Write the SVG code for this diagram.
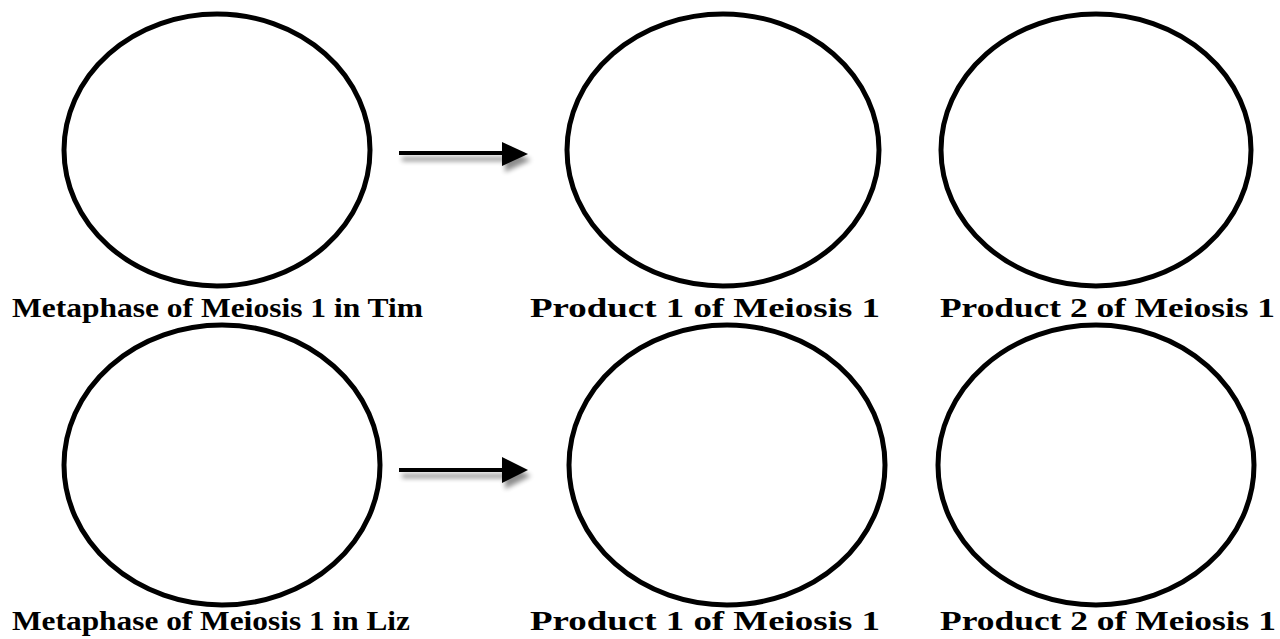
<svg xmlns="http://www.w3.org/2000/svg" width="1280" height="639" viewBox="0 0 1280 639">
<style>
.cell{fill:none;stroke:#000;stroke-width:5}
.lbl{font-family:"Liberation Serif","DejaVu Serif",serif;font-weight:bold;font-size:27px;fill:#000}
.arr{stroke:#000;stroke-width:4;fill:none}
</style>
<defs>
<filter id="sh" x="-20%" y="-50%" width="150%" height="250%">
<feGaussianBlur in="SourceAlpha" stdDeviation="2.5"/>
<feOffset dx="3" dy="6" result="b"/>
<feComponentTransfer><feFuncA type="linear" slope="0.45"/></feComponentTransfer>
<feMerge><feMergeNode/><feMergeNode in="SourceGraphic"/></feMerge>
</filter>
</defs>
<rect width="1280" height="639" fill="#fff"/>
<g id="tim-metaphase"><ellipse class="cell" cx="217" cy="150" rx="153" ry="136"/><text class="lbl" x="12" y="317" textLength="411" lengthAdjust="spacingAndGlyphs">Metaphase of Meiosis 1 in Tim</text></g>
<g id="tim-product1"><ellipse class="cell" cx="723" cy="150" rx="156" ry="136"/><text class="lbl" x="530" y="317" textLength="350" lengthAdjust="spacingAndGlyphs">Product 1 of Meiosis 1</text></g>
<g id="tim-product2"><ellipse class="cell" cx="1096" cy="150" rx="155" ry="136"/><text class="lbl" x="940" y="317" textLength="335" lengthAdjust="spacingAndGlyphs">Product 2 of Meiosis 1</text></g>
<g id="liz-metaphase"><ellipse class="cell" cx="222" cy="465" rx="158" ry="140"/><text class="lbl" x="12" y="630" textLength="398" lengthAdjust="spacingAndGlyphs">Metaphase of Meiosis 1 in Liz</text></g>
<g id="liz-product1"><ellipse class="cell" cx="727" cy="465" rx="158" ry="140"/><text class="lbl" x="530" y="630" textLength="350" lengthAdjust="spacingAndGlyphs">Product 1 of Meiosis 1</text></g>
<g id="liz-product2"><ellipse class="cell" cx="1096" cy="465" rx="158" ry="140"/><text class="lbl" x="940" y="630" textLength="336" lengthAdjust="spacingAndGlyphs">Product 2 of Meiosis 1</text></g>
<g id="connectors">
<g filter="url(#sh)"><line class="arr" x1="399" y1="153" x2="504" y2="153"/><polygon points="502,142 528,154 502,166"/></g>
<g filter="url(#sh)"><line class="arr" x1="399" y1="470" x2="504" y2="470"/><polygon points="502,457 528,470 502,483"/></g>
</g>
</svg>
